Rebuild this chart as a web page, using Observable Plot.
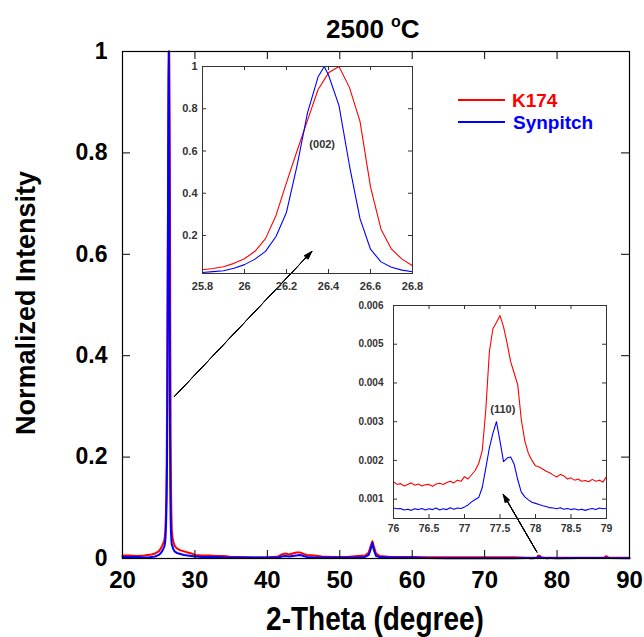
<!DOCTYPE html>
<html><head><meta charset="utf-8">
<script src="https://cdn.jsdelivr.net/npm/d3@7"></script>
<script src="https://cdn.jsdelivr.net/npm/@observablehq/plot@0.6"></script>
<style>
body{margin:0;background:#fff;}
#wrap{position:relative;width:644px;height:637px;overflow:hidden;background:#fff;font-family:"Liberation Sans",Arial,sans-serif;font-weight:bold;color:#000;}
#wrap svg{position:absolute;}
.txt{position:absolute;white-space:nowrap;line-height:1;}
.leg{position:absolute;height:1.5px;width:47px;}
</style></head><body><div id="wrap"></div><script>
// ---------- data ----------
const xTicksMain = [20, 30, 40, 50, 60, 70, 80, 90];
const yTicksMain = [0, 0.2, 0.4, 0.6, 0.8, 1];
const inset1XTicks = [25.8, 26, 26.2, 26.4, 26.6, 26.8];
const inset1YTicks = [0.2, 0.4, 0.6, 0.8, 1];
const inset2XTicks = [76, 76.5, 77, 77.5, 78, 78.5, 79];
const inset2YTicks = [0.001, 0.002, 0.003, 0.004, 0.005, 0.006];

const seriesNames = ["K174", "Synpitch"];

// overview (outside the two zoomed regions)
const overviewTheta = [20, 21, 22, 23, 23.5, 24, 24.5, 25, 25.3, 25.5, 25.7,
  26.9, 27, 27.2, 27.5, 28, 28.5, 29, 29.5, 30, 31, 32, 33, 34, 35, 36, 38, 40,
  41.5, 42, 42.5, 43, 43.5, 44, 44.5, 45, 45.5, 46.5, 47.5, 49, 51, 52.5, 53.5,
  54, 54.3, 54.5, 54.7, 55, 55.5, 57, 60, 62, 65, 70, 74, 75.9,
  79.1, 80, 83, 86.5, 86.8, 87.1, 90];
const k174Overview = [0.006, 0.006, 0.005, 0.006, 0.007, 0.008, 0.010, 0.014, 0.020, 0.026, 0.033,
  0.042, 0.034, 0.025, 0.020, 0.016, 0.014, 0.012, 0.010, 0.007, 0.006, 0.006, 0.005, 0.005, 0.003, 0.003, 0.002, 0.002,
  0.004, 0.008, 0.010, 0.008, 0.010, 0.012, 0.012, 0.009, 0.007, 0.006, 0.004, 0.003, 0.003, 0.005, 0.006,
  0.012, 0.026, 0.034, 0.024, 0.010, 0.005, 0.003, 0.003, 0.0025, 0.0025, 0.0025, 0.0025, 0.0016,
  0.0015, 0.0016, 0.0015, 0.0018, 0.0045, 0.0018, 0.0015];
const synOverview = [0.003, 0.003, 0.003, 0.002, 0.002, 0.003, 0.004, 0.007, 0.011, 0.015, 0.021,
  0.024, 0.019, 0.014, 0.011, 0.009, 0.007, 0.006, 0.005, 0.004, 0.003, 0.003, 0.003, 0.002, 0.002, 0.002, 0.002, 0.002,
  0.002, 0.004, 0.005, 0.004, 0.005, 0.006, 0.007, 0.005, 0.003, 0.002, 0.002, 0.002, 0.002, 0.002, 0.003,
  0.007, 0.020, 0.031, 0.017, 0.005, 0.003, 0.002, 0.002, 0.001, 0.0007, 0.0007, 0.0007, 0.0008,
  0.00075, 0.0007, 0.0008, 0.0008, 0.001, 0.0008, 0.0007];

// (002) region
const k174Theta002 = [25.8, 25.85, 25.9, 25.95, 26, 26.05, 26.1, 26.15, 26.2, 26.25, 26.3,
  26.35, 26.4, 26.45, 26.5, 26.55, 26.6, 26.65, 26.7, 26.75, 26.8];
const k174Peak002 = [0.038, 0.044, 0.052, 0.068, 0.090, 0.125, 0.185, 0.295, 0.450, 0.600, 0.745,
  0.890, 0.970, 1.000, 0.900, 0.740, 0.430, 0.230, 0.135, 0.088, 0.057];
const synTheta002 = [25.8, 25.85, 25.9, 25.95, 26, 26.05, 26.1, 26.15, 26.2, 26.25, 26.3,
  26.35, 26.38, 26.4, 26.45, 26.5, 26.55, 26.6, 26.65, 26.7, 26.75, 26.8];
const synPeak002 = [0.025, 0.029, 0.033, 0.045, 0.062, 0.088, 0.125, 0.195, 0.310, 0.530, 0.780,
  0.950, 1.000, 0.960, 0.815, 0.530, 0.280, 0.135, 0.075, 0.050, 0.036, 0.028];

// (110) region
const theta110 = [76, 76.05, 76.1, 76.15, 76.2, 76.25, 76.3, 76.35, 76.4, 76.45, 76.5,
  76.55, 76.6, 76.65, 76.7, 76.75, 76.8, 76.85, 76.9, 76.95, 77,
  77.05, 77.1, 77.15, 77.2, 77.25, 77.3, 77.35, 77.4, 77.45, 77.5,
  77.55, 77.6, 77.65, 77.7, 77.75, 77.8, 77.85, 77.9, 77.95, 78,
  78.05, 78.1, 78.15, 78.2, 78.25, 78.3, 78.35, 78.4, 78.45, 78.5,
  78.55, 78.6, 78.65, 78.7, 78.75, 78.8, 78.85, 78.9, 78.95, 79];
const k174Peak110 = [0.00145, 0.00138, 0.00140, 0.00134, 0.00138, 0.00142, 0.00136, 0.00139, 0.00134, 0.00137, 0.00138,
  0.00133, 0.00139, 0.00141, 0.00138, 0.00143, 0.00146, 0.00142, 0.00149, 0.00146, 0.00158,
  0.00152, 0.00163, 0.00174, 0.00192, 0.00225, 0.00330, 0.00480, 0.00540, 0.00556, 0.00574,
  0.00545, 0.00503, 0.00455, 0.00425, 0.00395, 0.00305, 0.00250, 0.00218, 0.00200, 0.00186,
  0.00183, 0.00178, 0.00172, 0.00168, 0.00162, 0.00157, 0.00164, 0.00160, 0.00152, 0.00155,
  0.00149, 0.00152, 0.00146, 0.00148, 0.00145, 0.00151, 0.00146, 0.00149, 0.00144, 0.00158];
const synPeak110 = [0.00077, 0.00075, 0.00076, 0.00072, 0.00074, 0.00071, 0.00075, 0.00073, 0.00076, 0.00072, 0.00075,
  0.00073, 0.00077, 0.00072, 0.00075, 0.00073, 0.00078, 0.00074, 0.00077, 0.00076, 0.00080,
  0.00085, 0.00093, 0.00099, 0.00104, 0.00130, 0.00180, 0.00232, 0.00270, 0.00300, 0.00250,
  0.00197, 0.00206, 0.00209, 0.00190, 0.00150, 0.00118, 0.00106, 0.00098, 0.00092, 0.00089,
  0.00086, 0.00083, 0.00081, 0.00078, 0.00077, 0.00075, 0.00078, 0.00074, 0.00076, 0.00073,
  0.00075, 0.00072, 0.00074, 0.00071, 0.00074, 0.00076, 0.00073, 0.00077, 0.00075, 0.00076];

// annotations (data units of each panel)
const mainArrows = [
  {x1: 27.2, y1: 0.32, x2: 46.1, y2: 0.605},
  {x1: 77.2, y1: 0.013, x2: 72.6, y2: 0.126}
];
const label002 = [{theta: 26.37, intensity: 0.63, text: "(002)"}];
const label110 = [{theta: 77.54, intensity: 0.00332, text: "(110)"}];

// ---------- build tables ----------
function rows(parts) {
  const out = [];
  for (const [t, v] of parts) t.forEach((x, i) => out.push({theta: x, intensity: v[i]}));
  return out.sort((a, b) => a.theta - b.theta);
}
const k174All = rows([[overviewTheta, k174Overview], [k174Theta002, k174Peak002], [theta110, k174Peak110]]);
const synAll = rows([[overviewTheta, synOverview], [synTheta002, synPeak002], [theta110, synPeak110]]);
const k174_002 = rows([[k174Theta002, k174Peak002]]);
const syn_002 = rows([[synTheta002, synPeak002]]);
const k174_110 = rows([[theta110, k174Peak110]]);
const syn_110 = rows([[theta110, synPeak110]]);

const RED = "#ff0000", BLUE = "#0000ff";
const FONT = "'Liberation Sans', Arial, sans-serif";
const fmt = d => String(d);
const headAngles = [6, 14, 22, 30, 38];

function tickMarks(xt, yt, w, h, len, stroke) {
  return [
    Plot.ruleX(xt, {x: d => d, insetTop: h - len, stroke}),
    Plot.ruleX(xt, {x: d => d, insetBottom: h - len, stroke}),
    Plot.ruleY(yt, {y: d => d, insetRight: w - len, stroke}),
    Plot.ruleY(yt, {y: d => d, insetLeft: w - len, stroke})
  ];
}

// ---------- main ----------
const main = Plot.plot({
  width: 644, height: 637,
  marginLeft: 122, marginRight: 15, marginTop: 51, marginBottom: 79,
  style: {background: "transparent", fontFamily: FONT, fontWeight: "bold", color: "#000", overflow: "visible", left: "0px", top: "0px"},
  x: {domain: [20, 90]},
  y: {domain: [0, 1]},
  marks: [
    Plot.line(k174All, {x: "theta", y: "intensity", stroke: RED, strokeWidth: 2}),
    Plot.line(synAll, {x: "theta", y: "intensity", stroke: BLUE, strokeWidth: 2}),
    ...tickMarks(xTicksMain, yTicksMain, 507, 507, 8, "#000"),
    Plot.frame({stroke: "#000", strokeWidth: 1.2}),
    Plot.axisX({ticks: xTicksMain, tickSize: 0, tickPadding: 12, fontSize: 24, tickFormat: fmt, label: null}),
    Plot.axisY({ticks: yTicksMain, tickSize: 0, tickPadding: 15, fontSize: 23, tickFormat: fmt, label: null}),
    ...headAngles.map(a => Plot.arrow(mainArrows, {x1: "x1", y1: "y1", x2: "x2", y2: "y2", stroke: "#000", strokeWidth: 1, headLength: 12, headAngle: a}))
  ]
});

// ---------- inset (002) ----------
const inset1 = Plot.plot({
  width: 260, height: 237,
  marginLeft: 40, marginRight: 10, marginTop: 5, marginBottom: 25,
  style: {background: "transparent", fontFamily: FONT, fontWeight: "bold", color: "#333", overflow: "visible", left: "162px", top: "61px"},
  x: {domain: [25.8, 26.8]},
  y: {domain: [0.02, 1]},
  marks: [
    Plot.line(k174_002, {x: "theta", y: "intensity", stroke: RED, strokeWidth: 1.1}),
    Plot.line(syn_002, {x: "theta", y: "intensity", stroke: BLUE, strokeWidth: 1.1}),
    ...tickMarks(inset1XTicks, inset1YTicks, 210, 207, 4, "#333"),
    Plot.frame({stroke: "#333", strokeWidth: 1}),
    Plot.axisX({ticks: inset1XTicks, tickSize: 0, tickPadding: 9, fontSize: 11, tickFormat: fmt, label: null}),
    Plot.axisY({ticks: inset1YTicks, tickSize: 0, tickPadding: 5, fontSize: 11, tickFormat: fmt, label: null}),
    Plot.text(label002, {x: "theta", y: "intensity", text: "text", fontSize: 11, fill: "#333"})
  ]
});

// ---------- inset (110) ----------
const inset2 = Plot.plot({
  width: 268, height: 240,
  marginLeft: 45, marginRight: 10, marginTop: 5, marginBottom: 22,
  style: {background: "transparent", fontFamily: FONT, fontWeight: "bold", color: "#333", overflow: "visible", left: "348px", top: "300px"},
  x: {domain: [76, 79]},
  y: {domain: [0.0005, 0.006]},
  marks: [
    Plot.line(k174_110, {x: "theta", y: "intensity", stroke: RED, strokeWidth: 1.1}),
    Plot.line(syn_110, {x: "theta", y: "intensity", stroke: BLUE, strokeWidth: 1.1}),
    ...tickMarks(inset2XTicks, inset2YTicks, 213, 213, 4, "#333"),
    Plot.frame({stroke: "#333", strokeWidth: 1}),
    Plot.axisX({ticks: inset2XTicks, tickSize: 0, tickPadding: 6, fontSize: 10.5, tickFormat: fmt, label: null}),
    Plot.axisY({ticks: inset2YTicks, tickSize: 0, tickPadding: 10, fontSize: 10, tickFormat: fmt, label: null}),
    Plot.text(label110, {x: "theta", y: "intensity", text: "text", fontSize: 11, fill: "#333"})
  ]
});

const wrap = document.getElementById("wrap");
for (const s of [main, inset1, inset2]) { s.style.position = "absolute"; wrap.appendChild(s); }

// ---------- texts & legend ----------
function addDiv(html, css) {
  const d = document.createElement("div");
  d.className = "txt";
  d.innerHTML = html;
  Object.assign(d.style, css);
  wrap.appendChild(d);
  return d;
}
addDiv('2500 <span style="font-size:16px;position:relative;top:-11px">o</span>C',
  {left: "326px", top: "16px", fontSize: "26px"});
addDiv("2-Theta (degree)", {left: "175px", width: "400px", textAlign: "center", top: "607px", fontSize: "28px",
  transform: "scaleY(1.18)", transformOrigin: "50% 24px"});
addDiv("Normalized Intensity", {left: "-124px", width: "300px", textAlign: "center", top: "289px", height: "28px",
  lineHeight: "28px", fontSize: "27px", transform: "rotate(-90deg)", transformOrigin: "50% 50%"});

const legendColors = [RED, BLUE];
const legendY = [100, 122];
seriesNames.forEach((name, i) => {
  const l = document.createElement("div");
  l.className = "leg";
  Object.assign(l.style, {left: "458px", top: (legendY[i] - 0.75) + "px", background: legendColors[i]});
  wrap.appendChild(l);
  addDiv(name, {left: (512 + i) + "px", top: (legendY[i] - 9.5) + "px", fontSize: "19px", color: legendColors[i]});
});
</script></body></html>
